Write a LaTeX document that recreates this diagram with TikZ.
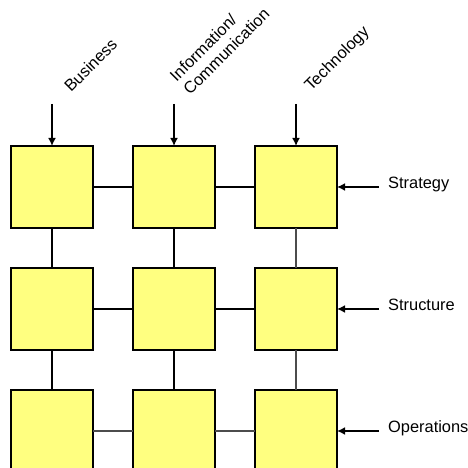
\documentclass[tikz,border=0pt]{standalone}
\usepackage{fontspec}
\setmainfont{Liberation Sans}
\usetikzlibrary{positioning,arrows.meta}
\definecolor{boxyellow}{RGB}{255,255,128}
\begin{document}
\begin{tikzpicture}[x=1pt, y=1pt, font=\fontsize{16.4}{19}\selectfont]

% Set the overall frame of the picture
\useasboundingbox (0,0) rectangle (468,468);
\clip (0,0) rectangle (468,468);

% Define styles for cells, links and arrows
\tikzstyle{cell} = [rectangle, draw=black, line width=2pt, fill=boxyellow, minimum size=82pt, inner sep=0pt, outer sep=0pt]
\tikzstyle{link} = [line width=2.2pt]
\tikzstyle{thinlink} = [line width=1.4pt, draw=black!70]
\tikzstyle{arr} = [line width=2.8pt, -{Latex[length=8pt,width=8pt]}]

%Labels rotated at 45 degrees over the columns
\tikzstyle{collabel} = [rotate=45, anchor=base west, inner sep=0pt, align=left]
\tikzstyle{rowlabel} = [anchor=base west, inner sep=0pt]

\node[cell] (b11) at (52,281) {};
\node[cell, right=40pt of b11] (b12) {};
\node[cell, right=40pt of b12] (b13) {};
\node[cell, below=40pt of b11] (b21) {};
\node[cell, right=40pt of b21] (b22) {};
\node[cell, right=40pt of b22] (b23) {};
\node[cell, below=40pt of b21] (b31) {};
\node[cell, right=40pt of b31] (b32) {};
\node[cell, right=40pt of b32] (b33) {};

% Links between the cells
\draw[link] (b11) -- (b12);
\draw[link] (b12) -- (b13);
\draw[link] (b21) -- (b22);
\draw[link] (b22) -- (b23);
\draw[thinlink] (b31) -- (b32);
\draw[thinlink] (b32) -- (b33);
\draw[link] (b11) -- (b21);
\draw[link] (b21) -- (b31);
\draw[link] (b12) -- (b22);
\draw[link] (b22) -- (b32);
\draw[thinlink] (b13) -- (b23);
\draw[thinlink] (b23) -- (b33);

% Column labels and their arrows
\node[collabel] (business) at (71,375) {Business};
\node[collabel] (infocom) at (190,372) {Information/\\Communication};
\node[collabel] (technology) at (311,376) {Technology};
\draw[arr] ([yshift=42pt]b11.north) -- (b11.north);
\draw[arr] ([yshift=42pt]b12.north) -- (b12.north);
\draw[arr] ([yshift=42pt]b13.north) -- (b13.north);

% Row labels and their arrows
\node[rowlabel] (strategy) at ([xshift=51pt,yshift=-2pt]b13.east) {Strategy};
\node[rowlabel] (structure) at ([xshift=51pt,yshift=-2pt]b23.east) {Structure};
\node[rowlabel] (operations) at ([xshift=51pt,yshift=-2pt]b33.east) {Operations};
\draw[arr] ([xshift=42pt]b13.east) -- (b13.east);
\draw[arr] ([xshift=42pt]b23.east) -- (b23.east);
\draw[arr] ([xshift=42pt]b33.east) -- (b33.east);

\end{tikzpicture}
\end{document}
